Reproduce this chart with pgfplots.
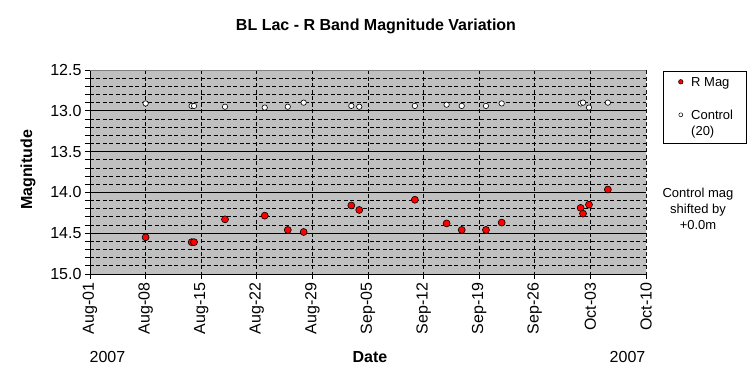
\documentclass[border=0pt]{standalone}
\usepackage{fontspec}
\setmainfont{Liberation Sans}
\usepackage{pgfplots}
\pgfplotsset{compat=1.18}
\usepackage{pgfplotstable}
\definecolor{plotbg}{RGB}{192,192,192}
\definecolor{framegray}{RGB}{128,128,128}
\definecolor{magred}{RGB}{255,0,0}

% day 0 = Aug-01-2007
\pgfplotstableread{
day mag
7.00 14.55
12.80 14.61
13.10 14.61
17.00 14.33
22.00 14.285
24.90 14.46
26.90 14.485
32.90 14.16
33.90 14.215
40.90 14.09
44.90 14.38
46.80 14.46
49.85 14.46
51.83 14.37
61.77 14.19
62.07 14.26
62.82 14.15
65.20 13.965
}\rmag

\pgfplotstableread{
day mag
7.00 12.91
12.80 12.94
13.10 12.94
17.00 12.95
22.00 12.96
24.90 12.95
26.90 12.90
32.90 12.94
33.90 12.95
40.90 12.94
44.90 12.925
46.80 12.94
49.85 12.94
51.83 12.91
61.77 12.91
62.07 12.90
62.82 12.96
65.20 12.90
}\ctrl

\begin{document}
\begin{tikzpicture}
\path[use as bounding box] (-90bp,-108bp) rectangle (660bp,274bp);
\begin{axis}[
  at={(0bp,0bp)}, anchor=south west,
  scale only axis, width=556bp, height=204bp,
  xmin=0, xmax=70, ymin=12.5, ymax=15, y dir=reverse,
  axis background/.style={fill=plotbg},
  axis lines*=left,
  axis line style={-, black, line width=0.8bp},
  tick align=outside,
  tick style={black, line width=0.8bp},
  major tick length=5bp, minor tick length=5bp,
  xtick={0,7,...,70},
  xticklabels={Aug-01,Aug-08,Aug-15,Aug-22,Aug-29,Sep-05,Sep-12,Sep-19,Sep-26,Oct-03,Oct-10},
  ytick={12.5,13,13.5,14,14.5,15},
  minor y tick num=4,
  yticklabel style={/pgf/number format/fixed, /pgf/number format/fixed zerofill, /pgf/number format/precision=1},
  /pgf/number format/assume math mode=true,
  tick label style={font=\fontsize{16bp}{19bp}\selectfont},
  xticklabel style={rotate=90, anchor=east},
  yticklabel style={anchor=east},
  xmajorgrids, ymajorgrids, yminorgrids,
  major x grid style={black, line width=0.8bp, dash pattern=on 4bp off 2.5bp},
  major y grid style={black, line width=0.8bp},
  minor y grid style={black, line width=0.8bp, dash pattern=on 4bp off 2.5bp},
  xlabel={Date},
  xlabel style={at={(axis description cs:0.5036,-0.4314)}, anchor=base, font=\bfseries\fontsize{16bp}{19bp}\selectfont},
  ylabel={Magnitude},
  ylabel style={at={(axis description cs:-0.1043,0.51)}, anchor=base, font=\bfseries\fontsize{16bp}{19bp}\selectfont},
  legend style={at={(axis description cs:1,1)}, anchor=north west, xshift=17.3bp, yshift=-1.2bp,
    draw=black, line width=0.8bp, fill=white,
    font=\fontsize{13bp}{16bp}\selectfont,
    inner xsep=8bp, inner ysep=2.3bp, row sep=14.4bp, column sep=0bp,
    cells={anchor=base west}, nodes={inner sep=1.3bp, text depth=}},
  legend image code/.code={\path (0bp,0bp) (17.4bp,0bp); \draw[#1] plot coordinates {(8.7bp,4.6bp)};},
]
\addplot[only marks, mark=*, mark size=3.5bp, mark options={fill=magred, draw=black, line width=0.6bp}, forget plot] table[x=day,y=mag]{\rmag};
\addplot[only marks, mark=*, mark size=2.7bp, mark options={fill=white, draw=black, line width=0.6bp}, forget plot] table[x=day,y=mag]{\ctrl};
\draw[framegray, line width=0.8bp] (axis description cs:0,1) -- (axis description cs:1,1) -- (axis description cs:1,0);
\addlegendimage{only marks, mark=*, mark size=2.3bp, mark options={fill=magred, draw=black, line width=0.5bp}}
\addlegendentry{\begin{tabular}[t]{@{}p{46bp}@{}}R Mag\end{tabular}}
\addlegendimage{only marks, mark=*, mark size=2bp, mark options={fill=white, draw=black, line width=0.5bp}}
\addlegendentry{\begin{tabular}[t]{@{}p{46bp}@{}}Control\\(20)\end{tabular}}
\end{axis}
\node[anchor=base, font=\bfseries\fontsize{16bp}{19bp}\selectfont] at (286bp,243.3bp) {BL Lac - R Band Magnitude Variation};
\node[anchor=base, font=\fontsize{16bp}{19bp}\selectfont] at (17.5bp,-88bp) {2007};
\node[anchor=base, font=\fontsize{16bp}{19bp}\selectfont] at (537.5bp,-88bp) {2007};
\node[align=center, font=\fontsize{13bp}{16bp}\selectfont] at (608bp,65bp) {Control mag\\shifted by\\+0.0m};
\end{tikzpicture}
\end{document}
